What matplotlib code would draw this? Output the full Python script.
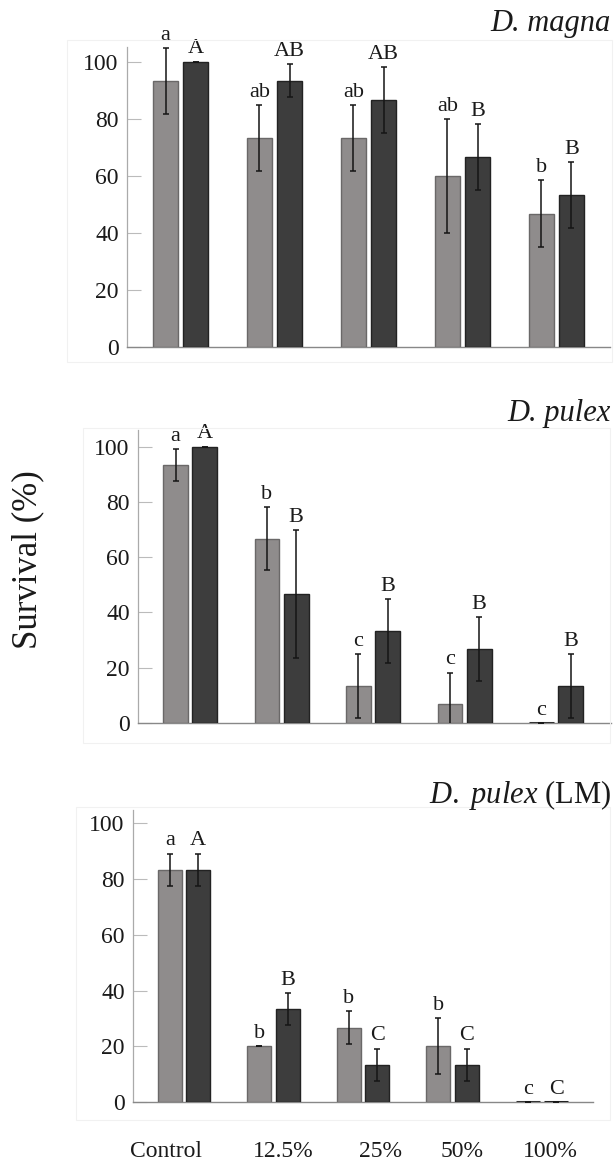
import numpy as np
import matplotlib
matplotlib.use("Agg")
import matplotlib.pyplot as plt
from matplotlib.patches import Rectangle

plt.rcParams['font.family'] = ['Liberation Serif', 'DejaVu Serif']
plt.rcParams['mathtext.fontset'] = 'custom'
plt.rcParams['mathtext.rm'] = 'Liberation Serif'
plt.rcParams['mathtext.it'] = 'Liberation Serif:italic'

# data
groups = ['Control', '12.5%', '25%', '50%', '100%']

magna_light = [93.3, 73.3, 73.3, 60.0, 46.7]
magna_light_err = [11.5, 11.5, 11.5, 20.0, 11.7]
magna_dark = [100.0, 93.3, 86.7, 66.7, 53.3]
magna_dark_err = [0.0, 5.8, 11.5, 11.5, 11.5]
magna_light_letters = ['a', 'ab', 'ab', 'ab', 'b']
magna_dark_letters = ['A', 'AB', 'AB', 'B', 'B']

pulex_light = [93.3, 66.7, 13.3, 6.7, 0.0]
pulex_light_err = [5.8, 11.5, 11.5, 11.5, 0.0]
pulex_dark = [100.0, 46.7, 33.3, 26.7, 13.3]
pulex_dark_err = [0.0, 23.1, 11.5, 11.5, 11.5]
pulex_light_letters = ['a', 'b', 'c', 'c', 'c']
pulex_dark_letters = ['A', 'B', 'B', 'B', 'B']

lm_light = [83.3, 20.0, 26.7, 20.0, 0.0]
lm_light_err = [5.8, 0.0, 5.8, 10.0, 0.0]
lm_dark = [83.3, 33.3, 13.3, 13.3, 0.0]
lm_dark_err = [5.8, 5.8, 5.8, 5.8, 0.0]
lm_light_letters = ['a', 'b', 'b', 'b', 'c']
lm_dark_letters = ['A', 'B', 'C', 'C', 'C']

yticks = [0, 20, 40, 60, 80, 100]

LIGHT = '#8f8c8c'
DARK = '#3d3d3d'
TXT = '#1a1a1a'
W, H = 614, 1169

fig = plt.figure(figsize=(W / 100, H / 100), dpi=100)


def px_axes(left, top, right, bottom):
    return fig.add_axes([left / W, 1 - bottom / H, (right - left) / W, (bottom - top) / H])


def frame(left, top, right, bottom):
    # faint box round each panel, as in the source figure
    fig.patches.append(Rectangle((left / W, 1 - bottom / H), (right - left) / W, (bottom - top) / H,
                                 transform=fig.transFigure, fill=False,
                                 edgecolor='#f1f1f1', linewidth=0.8, zorder=0))


def draw_panel(ax, light, light_err, dark, dark_err, light_letters, dark_letters, ytop, xlim):
    x = np.arange(len(groups))
    off, bw = 0.16, 0.27
    # bars at zero show up as a thick dark line on the axis
    lw_light = [2.2 if v == 0 else 1.0 for v in light]
    lw_dark = [2.2 if v == 0 else 1.0 for v in dark]
    ax.bar(x - off, light, bw, color=LIGHT, edgecolor=['#333333' if v == 0 else '#6a6868' for v in light],
           linewidth=lw_light, zorder=2.6)
    ax.bar(x + off, dark, bw, color=DARK, edgecolor='#222222', linewidth=lw_dark, zorder=2.6)
    ax.errorbar(x - off, light, yerr=light_err, fmt='none', ecolor='#151515',
                elinewidth=1.1, capsize=2.5, capthick=1.1, zorder=3)
    ax.errorbar(x + off, dark, yerr=dark_err, fmt='none', ecolor='#151515',
                elinewidth=1.1, capsize=2.5, capthick=1.1, zorder=3)
    for xi, v, e, t in zip(x - off, light, light_err, light_letters):
        ax.annotate(t, (xi, v + e), xytext=(0, 6), textcoords='offset points',
                    ha='center', va='baseline', fontsize=16, color=TXT)
    for xi, v, e, t in zip(x + off, dark, dark_err, dark_letters):
        ax.annotate(t, (xi, v + e), xytext=(0, 6), textcoords='offset points',
                    ha='center', va='baseline', fontsize=16, color=TXT)
    ax.set_ylim(0, ytop)
    ax.set_xlim(*xlim)
    ax.set_yticks(yticks)
    ax.tick_params(axis='y', direction='in', length=10, width=0.8, color='#bbbbbb',
                   labelsize=17, pad=6, labelcolor=TXT)
    ax.set_xticks([])
    for s in ['top', 'right']:
        ax.spines[s].set_visible(False)
    ax.spines['left'].set_color('#aaaaaa')
    ax.spines['left'].set_linewidth(0.9)
    ax.spines['bottom'].set_color('#888888')
    ax.spines['bottom'].set_linewidth(1.0)
    ax.patch.set_alpha(0)


frame(67, 40, 612, 362)
frame(83, 428, 610, 743)
frame(76, 807, 610, 1120)

ax1 = px_axes(127, 47, 610, 347)
draw_panel(ax1, magna_light, magna_light_err, magna_dark, magna_dark_err,
           magna_light_letters, magna_dark_letters, 105.2, (-0.57, 4.57))

ax2 = px_axes(138, 430, 611, 723)
draw_panel(ax2, pulex_light, pulex_light_err, pulex_dark, pulex_dark_err,
           pulex_light_letters, pulex_dark_letters, 106.0, (-0.57, 4.6))

ax3 = px_axes(133, 810, 593, 1102)
draw_panel(ax3, lm_light, lm_light_err, lm_dark, lm_dark_err,
           lm_light_letters, lm_dark_letters, 104.8, (-0.57, 4.57))

# category labels under the bottom panel only
label_shift = [-0.2, 0.11, 0.19, 0.11, 0.09]
ax3.set_xticks(np.arange(len(groups)) + np.array(label_shift))
ax3.set_xticklabels(groups)
ax3.tick_params(axis='x', length=0, pad=28, labelsize=17, labelcolor=TXT)

# panel titles
fig.text(611 / W, 1 - 31 / H, 'D. magna', ha='right', va='baseline',
         fontsize=22, fontstyle='italic', color=TXT)
fig.text(611 / W, 1 - 421 / H, 'D. pulex', ha='right', va='baseline',
         fontsize=22, fontstyle='italic', color=TXT)
fig.text(611 / W, 1 - 803 / H, r'$\mathit{D.\ pulex}$ (LM)', ha='right', va='baseline',
         fontsize=22, color=TXT)

fig.text(28 / W, 1 - 560 / H, 'Survival (%)', rotation=90, ha='center', va='center',
         fontsize=25, color=TXT)

fig.savefig('out.png', dpi=100)
